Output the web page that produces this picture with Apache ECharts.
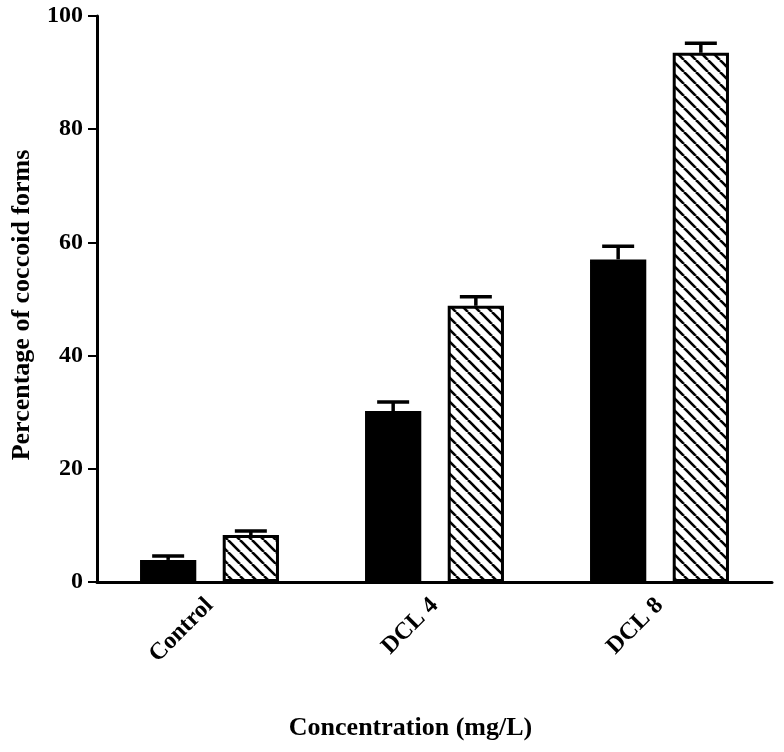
<!DOCTYPE html>
<html>
<head>
<meta charset="utf-8">
<script src="https://cdn.jsdelivr.net/npm/echarts@6/dist/echarts.min.js"></script>
<style>html,body{margin:0;padding:0;background:#fff;}#c{width:784px;height:752px;}</style>
</head>
<body>
<div id="c"></div>
<script>
const categories = ['Control', 'DCL 4', 'DCL 8'];
const solidMeans = [3.9, 30.2, 57.0];
const solidErrors = [0.7, 1.6, 2.3];
const hatchedMeans = [8.3, 48.8, 93.5];
const hatchedErrors = [0.7, 1.6, 1.7];
const yTicks = [0, 20, 40, 60, 80, 100];

const FONT = '"Liberation Serif", "Times New Roman", serif';
const BAR_W = 0.25, BAR_GAP = 0.47;

function makeHatch() {
  const s = 12;
  const c = document.createElement('canvas');
  c.width = s; c.height = s;
  const ctx = c.getContext('2d');
  ctx.fillStyle = '#fff';
  ctx.fillRect(0, 0, s, s);
  ctx.strokeStyle = '#000';
  ctx.lineWidth = 2.6;
  for (const o of [-s, 0, s]) {
    ctx.beginPath();
    ctx.moveTo(o, 0);
    ctx.lineTo(o + s, s);
    ctx.stroke();
  }
  return c;
}

function errorSeries(means, errs, idx) {
  return {
    type: 'custom',
    z: 1,
    data: means.map((m, i) => [i, m, errs[i]]),
    encode: { x: 0, y: 1 },
    renderItem: function (params, api) {
      const i = api.value(0), m = api.value(1), e = api.value(2);
      const band = api.size([1, 0])[0];
      const bw = band * BAR_W, gap = bw * BAR_GAP;
      const total = 2 * bw + gap;
      const c0 = api.coord([i, m]);
      const cx = c0[0] - total / 2 + bw / 2 + idx * (bw + gap);
      const top = api.coord([i, m + e])[1];
      const half = 16;
      const style = { stroke: '#000', lineWidth: 3.5, fill: null };
      return {
        type: 'group',
        children: [
          { type: 'line', shape: { x1: cx, y1: c0[1], x2: cx, y2: top }, style: style },
          { type: 'line', shape: { x1: cx - half, y1: top, x2: cx + half, y2: top }, style: style }
        ]
      };
    }
  };
}

const chart = echarts.init(document.getElementById('c'), null, { renderer: 'canvas' });
chart.setOption({
  animation: false,
  backgroundColor: '#fff',
  grid: { left: 97, right: 12, top: 16, bottom: 170 },
  xAxis: {
    type: 'category',
    data: categories,
    name: 'Concentration (mg/L)',
    nameLocation: 'middle',
    nameGap: 133,
    nameTextStyle: { fontFamily: FONT, fontWeight: 'bold', fontSize: 26, color: '#000', padding: [0, 48, 0, 0] },
    axisLine: { lineStyle: { color: '#000', width: 3 } },
    axisTick: { alignWithLabel: true, length: 9, lineStyle: { color: '#000', width: 2 } },
    axisLabel: { rotate: 45, margin: 20, fontFamily: FONT, fontWeight: 'bold', fontSize: 24, color: '#000' },
    splitLine: { show: false }
  },
  yAxis: {
    type: 'value',
    min: yTicks[0],
    max: yTicks[yTicks.length - 1],
    interval: yTicks[1] - yTicks[0],
    name: 'Percentage of coccoid forms',
    nameLocation: 'middle',
    nameGap: 62,
    nameTextStyle: { fontFamily: FONT, fontWeight: 'bold', fontSize: 26, color: '#000', padding: [0, 12, 0, 0] },
    axisLine: { show: true, lineStyle: { color: '#000', width: 3 } },
    axisTick: { show: true, length: 9, lineStyle: { color: '#000', width: 2 } },
    axisLabel: { margin: 14, fontFamily: FONT, fontWeight: 'bold', fontSize: 24, color: '#000' },
    splitLine: { show: false }
  },
  series: [
    {
      type: 'bar',
      data: solidMeans,
      barWidth: (BAR_W * 100) + '%',
      barGap: (BAR_GAP * 100) + '%',
      z: 2,
      itemStyle: { color: '#000', borderColor: '#000', borderWidth: 3 }
    },
    {
      type: 'bar',
      data: hatchedMeans,
      barWidth: (BAR_W * 100) + '%',
      z: 2,
      itemStyle: { color: { image: makeHatch(), repeat: 'repeat' }, borderColor: '#000', borderWidth: 3 }
    },
    errorSeries(solidMeans, solidErrors, 0),
    errorSeries(hatchedMeans, hatchedErrors, 1)
  ]
});
</script>
</body>
</html>
